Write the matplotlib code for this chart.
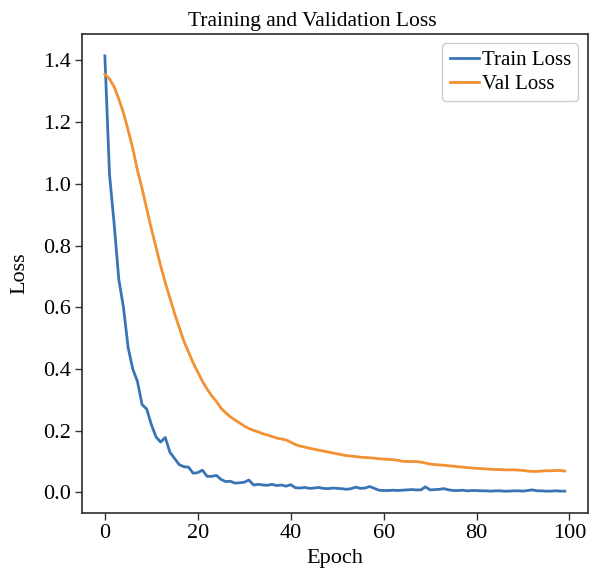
import matplotlib
matplotlib.use("Agg")
import matplotlib.pyplot as plt
import numpy as np

plt.rcParams['font.family'] = ['Liberation Serif', 'DejaVu Serif']

train_loss = [
    1.415, 1.03, 0.87, 0.69, 0.60, 0.47, 0.40, 0.36, 0.285, 0.27,
    0.22, 0.18, 0.163, 0.178, 0.13, 0.11, 0.09, 0.083, 0.082, 0.062,
    0.064, 0.072, 0.052, 0.052, 0.055, 0.042, 0.035, 0.036, 0.030, 0.031,
    0.033, 0.040, 0.024, 0.026, 0.024, 0.023, 0.026, 0.022, 0.024, 0.020,
    0.025, 0.015, 0.014, 0.016, 0.013, 0.014, 0.016, 0.013, 0.012, 0.014,
    0.013, 0.012, 0.010, 0.012, 0.017, 0.013, 0.014, 0.019, 0.013, 0.007,
    0.006, 0.006, 0.007, 0.006, 0.007, 0.008, 0.009, 0.008, 0.008, 0.018,
    0.008, 0.009, 0.010, 0.012, 0.008, 0.006, 0.006, 0.007, 0.005, 0.006,
    0.006, 0.005, 0.005, 0.004, 0.005, 0.005, 0.004, 0.004, 0.005, 0.005,
    0.004, 0.006, 0.008, 0.005, 0.005, 0.004, 0.004, 0.005, 0.004, 0.004,
]

val_loss = [
    1.355, 1.34, 1.315, 1.275, 1.23, 1.175, 1.115, 1.045, 0.985, 0.92,
    0.855, 0.795, 0.735, 0.68, 0.63, 0.58, 0.535, 0.49, 0.455, 0.42,
    0.39, 0.36, 0.335, 0.313, 0.295, 0.273, 0.258, 0.245, 0.235, 0.225,
    0.215, 0.207, 0.201, 0.196, 0.19, 0.186, 0.181, 0.176, 0.173, 0.17,
    0.163, 0.155, 0.150, 0.147, 0.143, 0.140, 0.137, 0.134, 0.131, 0.128,
    0.125, 0.122, 0.119, 0.118, 0.116, 0.114, 0.113, 0.112, 0.111, 0.109,
    0.108, 0.107, 0.106, 0.104, 0.101, 0.100, 0.100, 0.100, 0.098, 0.095,
    0.092, 0.090, 0.089, 0.088, 0.086, 0.085, 0.083, 0.082, 0.080, 0.079,
    0.078, 0.077, 0.076, 0.075, 0.074, 0.074, 0.073, 0.073, 0.073, 0.072,
    0.071, 0.069, 0.068, 0.068, 0.069, 0.070, 0.070, 0.071, 0.071, 0.069,
]

epochs = np.arange(len(train_loss))

fig = plt.figure(figsize=(5.89, 5.68), dpi=100)
ax = fig.add_axes([0.139, 0.097, 0.859, 0.843])

ax.plot(epochs, train_loss, color='#3a74b4', lw=2.0, label='Train Loss')
ax.plot(epochs, val_loss, color='#f39031', lw=2.0, label='Val Loss')

ax.set_title('Training and Validation Loss', fontsize=15.5, pad=6, x=0.455)
ax.set_xlabel('Epoch', fontsize=16, labelpad=4)
ax.set_ylabel('Loss', fontsize=16, labelpad=10)
ax.set_xticks([0, 20, 40, 60, 80, 100])
ax.set_yticks(np.arange(0, 1.41, 0.2))
ax.set_yticklabels([f'{v:.1f}' for v in np.arange(0, 1.41, 0.2)])
ax.tick_params(labelsize=16, direction='out', length=5, width=1.0,
               color='#333333', pad=3)
for s in ax.spines.values():
    s.set_linewidth(1.25)
    s.set_color('#333333')

leg = ax.legend(loc='upper right', fontsize=15, handlelength=1.4,
                handletextpad=0.15, borderpad=0.35, labelspacing=0.2,
                fancybox=True, edgecolor='#cccccc', framealpha=1.0,
                borderaxespad=0.45)

fig.savefig('out.png', dpi=100)
